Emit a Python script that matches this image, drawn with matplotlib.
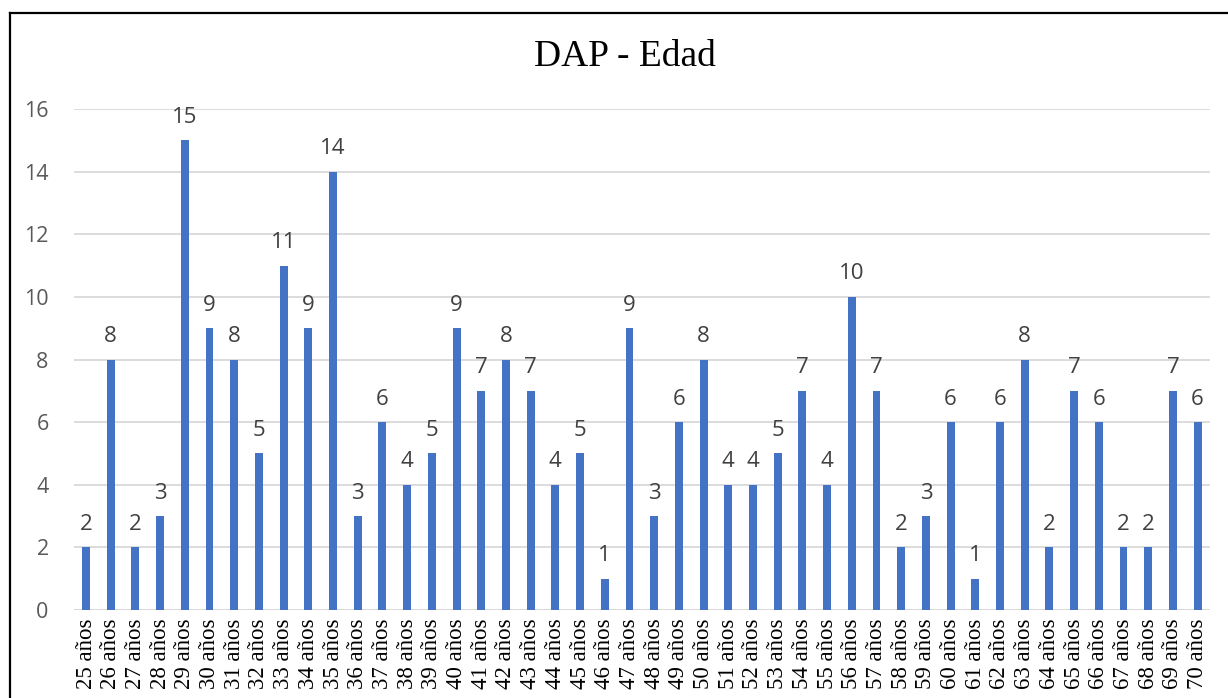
import matplotlib
matplotlib.use("Agg")
import matplotlib.pyplot as plt
from matplotlib.lines import Line2D

ages = list(range(25, 71))
categories = [f"{a} años" for a in ages]
values = [2, 8, 2, 3, 15, 9, 8, 5, 11, 9, 14, 3, 6, 4, 5, 9, 7, 8, 7, 4, 5, 1,
          9, 3, 6, 8, 4, 4, 5, 7, 4, 10, 7, 2, 3, 6, 1, 6, 8, 2, 7, 6, 2, 2, 7, 6]
title = "DAP - Edad"
yticks = [0, 2, 4, 6, 8, 10, 12, 14, 16]

fig = plt.figure(figsize=(12.28, 6.98), dpi=100)
ax = fig.add_axes([0.06, 0.1261, 0.9253, 0.7177])

x = list(range(len(categories)))
ax.bar(x, values, width=0.32, color="#4472C4", zorder=3)

for xi, v in zip(x, values):
    ax.text(xi, v + 0.4, str(v), ha="center", va="bottom",
            fontsize=16, color="#404040", family="Open Sans")

ax.set_xlim(-0.5, len(categories) - 0.5)
ax.set_ylim(0, 16)
ax.set_yticks(yticks)
ax.set_yticklabels([str(t) for t in yticks], fontsize=15.5, color="#595959", family="Open Sans")
ax.set_xticks(x)
ax.set_xticklabels(categories, rotation=90, fontsize=16.5, family="Liberation Serif", color="black")
ax.tick_params(axis="both", length=0)
ax.tick_params(axis="y", pad=18)
ax.tick_params(axis="x", pad=6)
ax.grid(axis="y", color="#D9D9D9", linewidth=1.3, zorder=0)
for s in ax.spines.values():
    s.set_visible(False)
ax.axhline(0, color="#D9D9D9", linewidth=1.3, zorder=2)

fig.text(0.509, 0.918, title, ha="center", va="center", fontsize=27,
         family="Liberation Serif", color="black")

# outer frame (cropped: only left and top visible)
fig.add_artist(Line2D([0.0085, 0.0085], [0.0, 0.981], transform=fig.transFigure,
                      color="black", linewidth=1.6))
fig.add_artist(Line2D([0.0085, 1.0], [0.981, 0.981], transform=fig.transFigure,
                      color="black", linewidth=1.6))

fig.savefig("out.png", dpi=100)
